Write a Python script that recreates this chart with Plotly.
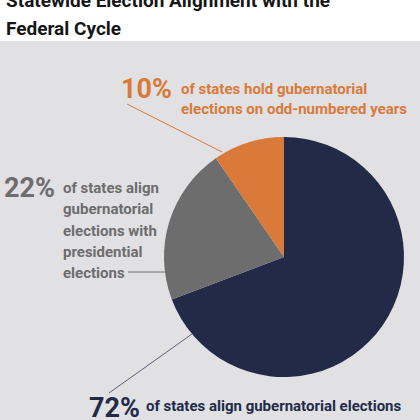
import plotly.graph_objects as go

# slice data, drawn clockwise from 12 o'clock
labels = ["Federal midterm elections", "Presidential elections", "Odd-numbered years"]
values = [72, 22, 10]
colors = ["#232A48", "#6D6D6D", "#D97A3A"]

pct_text = ["72%", "22%", "10%"]
desc_lines = [
    ["of states align gubernatorial elections", "with federal midterm elections"],
    ["of states align", "gubernatorial", "elections with", "presidential", "elections"],
    ["of states hold gubernatorial", "elections on odd-numbered years"],
]

title_lines = ["Statewide Election Alignment with the", "Federal Cycle"]

W = H = 420
BG = "#E1E1E4"
FONT = "Roboto, Arial"


def px(x):
    return x / W


def py(y):
    return 1 - y / H


fig = go.Figure()
fig.add_trace(go.Pie(labels=labels, values=values, sort=False, direction="clockwise",
                     rotation=0, textinfo="none", hoverinfo="label+percent",
                     marker=dict(colors=colors, line=dict(width=0)),
                     domain=dict(x=[px(164), px(404)], y=[py(378), py(136)])))

shapes = [
    # gray panel under the white title strip
    dict(type="rect", xref="paper", yref="paper", x0=0, x1=1, y0=0, y1=py(41),
         fillcolor=BG, line=dict(width=0), layer="below"),
    # leader lines
    dict(type="line", xref="paper", yref="paper", x0=px(109), y0=py(393), x1=px(192), y1=py(334),
         line=dict(color="#5B6078", width=1)),
    dict(type="line", xref="paper", yref="paper", x0=px(128), y0=py(272), x1=px(168), y1=py(272),
         line=dict(color=colors[1], width=1)),
    dict(type="line", xref="paper", yref="paper", x0=px(127), y0=py(104), x1=px(222), y1=py(152),
         line=dict(color=colors[2], width=1)),
]

annotations = []
# title
for text, y in zip(title_lines, [1, 28.5]):
    annotations.append(dict(text="<b>" + text + "</b>", x=px(4), y=py(y), xanchor="left", yanchor="middle",
                            font=dict(size=19, color="#161616", family=FONT)))

# percent labels and descriptions
pct_pos = [(87, 408), (2, 188), (119, 89)]
desc_x = [144, 61, 179]
desc_y0 = [406, 188, 89]
desc_step = [21, 21.3, 20.5]
for i in range(3):
    annotations.append(dict(text="<b>" + pct_text[i] + "</b>", x=px(pct_pos[i][0]), y=py(pct_pos[i][1]),
                            xanchor="left", yanchor="middle",
                            font=dict(size=27, color=colors[i], family=FONT)))
    for j, line in enumerate(desc_lines[i]):
        annotations.append(dict(text="<b>" + line + "</b>", x=px(desc_x[i]),
                                y=py(desc_y0[i] + j * desc_step[i]),
                                xanchor="left", yanchor="middle", align="left",
                                font=dict(size=15, color=colors[i], family=FONT)))

fig.update_layout(width=W, height=H, margin=dict(l=0, r=0, t=0, b=0),
                  paper_bgcolor="white", plot_bgcolor=BG, showlegend=False,
                  shapes=shapes, annotations=annotations)
for a in fig.layout.annotations:
    a.xref = "paper"
    a.yref = "paper"
    a.showarrow = False

fig.write_html("out.html", config=dict(displayModeBar=False),
               post_script="document.body.style.margin = '0';")
